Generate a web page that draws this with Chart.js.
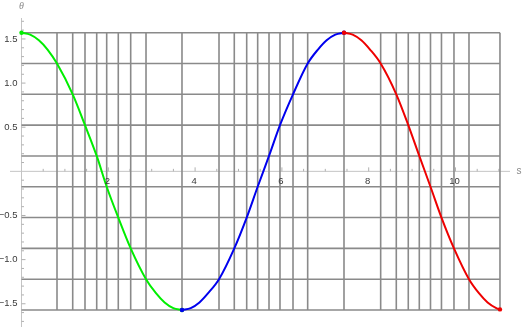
<!DOCTYPE html>
<html>
<head>
<meta charset="utf-8">
<script src="https://cdn.jsdelivr.net/npm/chart.js@4/dist/chart.umd.min.js"></script>
<style>
  html, body { margin: 0; padding: 0; background: #fff; }
  canvas { display: block; }
</style>
</head>
<body>
<canvas id="chart" width="523" height="327"></canvas>
<script>
// theta(s), one array pair per coloured swing
const greenS = [0, 0.2, 0.4, 0.6, 0.818, 1.18, 1.463, 1.733, 1.963, 2.23, 2.516, 2.869, 3.098, 3.298, 3.498, 3.698];
const greenTheta = [1.5708, 1.549, 1.485, 1.38, 1.2217, 0.8727, 0.5236, 0.1745, -0.1745, -0.5236, -0.8727, -1.2217, -1.38, -1.485, -1.549, -1.5708];

const blueS = [3.698, 3.9, 4.1, 4.3, 4.551, 4.903, 5.189, 5.442, 5.703, 5.956, 6.256, 6.594, 6.831, 7.031, 7.231, 7.431];
const blueTheta = [-1.5708, -1.549, -1.485, -1.38, -1.2217, -0.8727, -0.5236, -0.1745, 0.1745, 0.5236, 0.8727, 1.2217, 1.38, 1.485, 1.549, 1.5708];

const redS = [7.431, 7.631, 7.831, 8.031, 8.276, 8.636, 8.912, 9.166, 9.424, 9.677, 9.965, 10.311, 10.54, 10.74, 10.94, 11.025];
const redTheta = [1.5708, 1.549, 1.485, 1.38, 1.2217, 0.8727, 0.5236, 0.1745, -0.1745, -0.5236, -0.8727, -1.2217, -1.38, -1.485, -1.549, -1.564];

// grid lines: s where the curve crosses each theta level, and the levels
const gridS = [0.818, 1.18, 1.463, 1.733, 1.963, 2.23, 2.516, 2.869, 3.698,
               4.551, 4.903, 5.189, 5.442, 5.703, 5.956, 6.256, 6.594, 7.431,
               8.276, 8.636, 8.912, 9.166, 9.424, 9.677, 9.965, 10.311, 11.025];
const gridTheta = [1.5708, 1.2217, 0.8727, 0.5236, 0.1745, -0.1745, -0.5236, -0.8727, -1.2217, -1.5708];

const xTickLabels = [2, 4, 6, 8, 10];
const yTickLabels = [1.5, 1.0, 0.5, -0.5, -1.0, -1.5];

function toPoints(xs, ys) {
    return xs.map((s, i) => ({ x: s, y: ys[i] }));
}

function endRadius(xs) {
    return xs.map((_, i) => (i === 0 || i === xs.length - 1) ? 2.2 : 0);
}

function fmt(v) {
    const t = v.toFixed(1);
    return v < 0 ? '\u2212' + t.slice(1) : t;
}

const axesPlugin = {
    id: 'axesPlugin',
    beforeDatasetsDraw(chart) {
        const { ctx, chartArea: area, scales: { x, y } } = chart;
        const x0 = x.getPixelForValue(0);
        const y0 = y.getPixelForValue(0);
        ctx.save();

        // axis lines
        ctx.strokeStyle = '#c4c4c4';
        ctx.lineWidth = 1;
        ctx.beginPath();
        ctx.moveTo(area.left, y0);
        ctx.lineTo(area.right, y0);
        ctx.moveTo(x0, area.top);
        ctx.lineTo(x0, area.bottom);
        ctx.stroke();

        // tick marks
        ctx.strokeStyle = '#b0b0b0';
        ctx.beginPath();
        for (let i = 1; i <= 22; i++) {
            const px = x.getPixelForValue(i * 0.5);
            const len = i % 4 === 0 ? 4 : 2.5;
            ctx.moveTo(px, y0);
            ctx.lineTo(px, y0 - len);
        }
        for (let i = -17; i <= 17; i++) {
            if (i === 0) continue;
            const py = y.getPixelForValue(i * 0.1);
            const len = i % 5 === 0 ? 4 : 2.5;
            ctx.moveTo(x0, py);
            ctx.lineTo(x0 + len, py);
        }
        ctx.stroke();

        // grid
        const gTop = y.getPixelForValue(gridTheta[0]);
        const gBottom = y.getPixelForValue(gridTheta[gridTheta.length - 1]);
        const gRight = x.getPixelForValue(gridS[gridS.length - 1]);
        ctx.strokeStyle = '#8a8a8a';
        ctx.lineWidth = 1.6;
        ctx.beginPath();
        gridTheta.forEach(t => {
            const py = y.getPixelForValue(t);
            ctx.moveTo(x0, py);
            ctx.lineTo(gRight, py);
        });
        gridS.forEach(s => {
            const px = x.getPixelForValue(s);
            ctx.moveTo(px, gTop);
            ctx.lineTo(px, gBottom);
        });
        ctx.stroke();
        ctx.restore();
    },
    afterDraw(chart) {
        const { ctx, chartArea: area, scales: { x, y } } = chart;
        const x0 = x.getPixelForValue(0);
        const y0 = y.getPixelForValue(0);
        ctx.save();
        ctx.fillStyle = '#3a3a3a';
        ctx.font = '9.5px "Liberation Sans", Arial, sans-serif';

        ctx.textAlign = 'right';
        ctx.textBaseline = 'middle';
        yTickLabels.forEach(v => {
            ctx.fillText(fmt(v), x0 - 4, y.getPixelForValue(v));
        });

        ctx.textAlign = 'center';
        ctx.textBaseline = 'top';
        xTickLabels.forEach(v => {
            ctx.fillText(String(v), x.getPixelForValue(v) - 1, y0 + 5);
        });

        ctx.fillStyle = '#8a8a8a';
        ctx.font = 'italic 10px "Liberation Serif", "DejaVu Serif", serif';
        ctx.textAlign = 'center';
        ctx.textBaseline = 'middle';
        ctx.fillText('\u03B8', x0, 6);
        ctx.font = '10px "Liberation Sans", Arial, sans-serif';
        ctx.fillText('s', area.right + 9, y0);
        ctx.restore();
    }
};

function lineSet(xs, ys, color, order) {
    return {
        data: toPoints(xs, ys),
        order: order,
        borderColor: color,
        backgroundColor: color,
        borderWidth: 2,
        pointRadius: endRadius(xs),
        pointBorderWidth: 0,
        pointBackgroundColor: color,
        cubicInterpolationMode: 'monotone',
        fill: false
    };
}

new Chart(document.getElementById('chart'), {
    type: 'line',
    data: {
        datasets: [
            lineSet(greenS, greenTheta, '#00ee00', 2),
            lineSet(blueS, blueTheta, '#0000ee', 1),
            lineSet(redS, redTheta, '#ee0000', 0)
        ]
    },
    options: {
        responsive: false,
        animation: false,
        clip: false,
        layout: { autoPadding: false, padding: { left: 10, right: 13, top: 18, bottom: 0 } },
        plugins: { legend: { display: false }, tooltip: { enabled: false } },
        scales: {
            x: { type: 'linear', min: -0.265, max: 11.256, display: false },
            y: { type: 'linear', min: -1.7633, max: 1.7373, display: false }
        }
    },
    plugins: [axesPlugin]
});
</script>
</body>
</html>
